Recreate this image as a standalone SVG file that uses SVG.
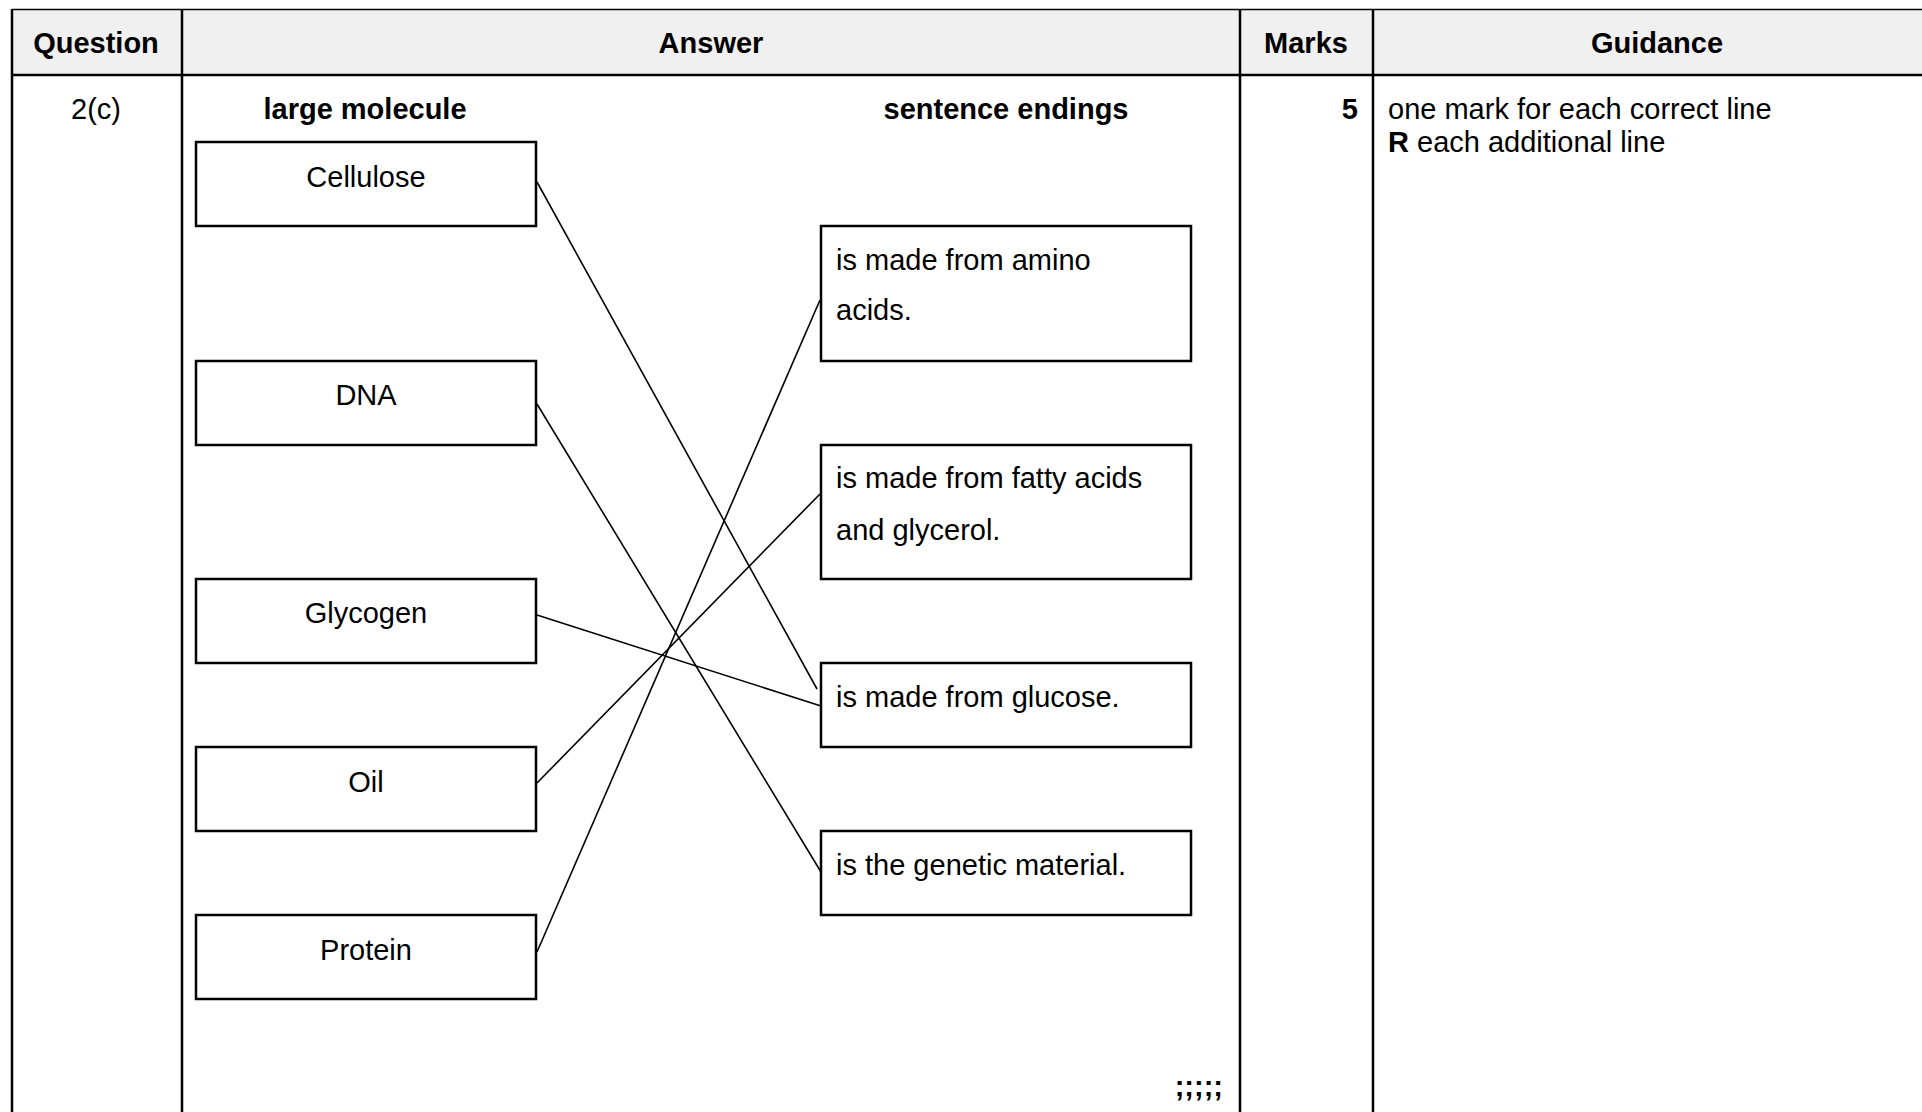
<svg xmlns="http://www.w3.org/2000/svg" width="1922" height="1112" viewBox="0 0 1922 1112">
<style>
.t{font-family:"Liberation Sans",Arial,sans-serif;font-size:29px;fill:#000}
.b{font-family:"Liberation Sans",Arial,sans-serif;font-size:29px;font-weight:bold;fill:#000}
.c{text-anchor:middle}
.box{fill:#fff;stroke:#000;stroke-width:2.5}
.grid{stroke:#000;stroke-width:2.5;fill:none}
.conn line{stroke:#000;stroke-width:1.6}
</style>
<rect x="0" y="0" width="1922" height="1112" fill="#fff"/>
<g id="table">
<rect x="12" y="10" width="1910" height="65" fill="#f0f0f0"/>
<line x1="12" y1="9.5" x2="1922" y2="9.5" stroke="#000" stroke-width="1.5"/>
<line x1="12" y1="75" x2="1922" y2="75" class="grid"/>
<line x1="12" y1="9" x2="12" y2="1112" class="grid"/>
<line x1="182" y1="9" x2="182" y2="1112" class="grid"/>
<line x1="1240" y1="9" x2="1240" y2="1112" class="grid"/>
<line x1="1373" y1="9" x2="1373" y2="1112" class="grid"/>
<text class="b c" x="96" y="53">Question</text>
<text class="b c" x="711" y="53">Answer</text>
<text class="b c" x="1306" y="53">Marks</text>
<text class="b c" x="1657" y="53">Guidance</text>
<text class="t c" x="96" y="119">2(c)</text>
<text class="b c" x="365" y="119">large molecule</text>
<text class="b c" x="1006" y="119">sentence endings</text>
<text class="b" x="1358" y="119" text-anchor="end">5</text>
<text class="t" x="1388" y="119">one mark for each correct line</text>
<text class="t" x="1388" y="152"><tspan font-weight="bold">R</tspan> each additional line</text>
<text class="b" x="1223" y="1096" text-anchor="end">;;;;;</text>
</g>
<g id="node-cellulose"><rect class="box" x="196" y="142" width="340" height="84"/><text class="t c" x="366" y="187">Cellulose</text></g>
<g id="node-dna"><rect class="box" x="196" y="361" width="340" height="84"/><text class="t c" x="366" y="405">DNA</text></g>
<g id="node-glycogen"><rect class="box" x="196" y="579" width="340" height="84"/><text class="t c" x="366" y="623">Glycogen</text></g>
<g id="node-oil"><rect class="box" x="196" y="747" width="340" height="84"/><text class="t c" x="366" y="792">Oil</text></g>
<g id="node-protein"><rect class="box" x="196" y="915" width="340" height="84"/><text class="t c" x="366" y="960">Protein</text></g>
<g id="node-amino"><rect class="box" x="821" y="226" width="370" height="135"/><text class="t" x="836" y="270">is made from amino</text><text class="t" x="836" y="320">acids.</text></g>
<g id="node-fatty"><rect class="box" x="821" y="445" width="370" height="134"/><text class="t" x="836" y="488">is made from fatty acids</text><text class="t" x="836" y="540">and glycerol.</text></g>
<g id="node-glucose"><rect class="box" x="821" y="663" width="370" height="84"/><text class="t" x="836" y="707">is made from glucose.</text></g>
<g id="node-genetic"><rect class="box" x="821" y="831" width="370" height="84"/><text class="t" x="836" y="875">is the genetic material.</text></g>
<g id="connectors" class="conn">
<line x1="537" y1="182" x2="817" y2="689"/>
<line x1="537" y1="404" x2="821" y2="872"/>
<line x1="537" y1="615" x2="821" y2="706"/>
<line x1="537" y1="783" x2="820" y2="494"/>
<line x1="537" y1="952" x2="820" y2="300"/>
</g>
</svg>
